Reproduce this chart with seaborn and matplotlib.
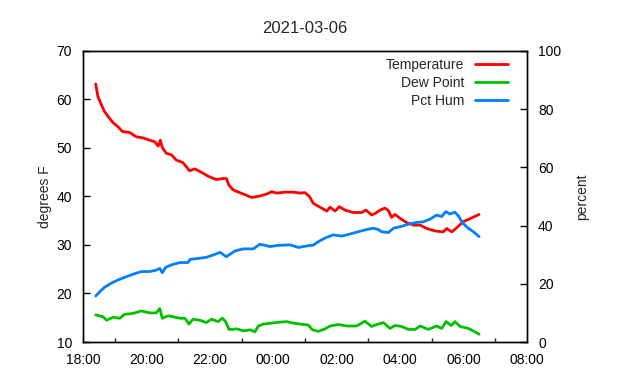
import pandas as pd
import seaborn as sns
import matplotlib
matplotlib.use("Agg")
import matplotlib.pyplot as plt
import matplotlib.dates as mdates

# hours after 18:00 on 2021-03-06
temp_hours = [0.40, 0.47, 0.58, 0.68, 0.79, 0.95, 1.10, 1.24, 1.47, 1.68, 1.89, 2.10, 2.26, 2.37,
              2.44, 2.50, 2.63, 2.79, 2.94, 3.15, 3.26, 3.36, 3.52, 3.73, 3.94, 4.20, 4.41, 4.52,
              4.60, 4.71, 4.79, 5.06, 5.32, 5.58, 5.79, 5.95, 6.11, 6.37, 6.63, 6.84, 7.00, 7.14,
              7.26, 7.47, 7.69, 7.79, 7.95, 8.08, 8.26, 8.52, 8.79, 8.92, 9.10, 9.21, 9.37, 9.52,
              9.63, 9.73, 9.84, 10.00, 10.21, 10.42, 10.63, 10.84, 11.10, 11.36, 11.47, 11.63,
              11.79, 11.99, 12.26, 12.49]
temperature = [63.2, 60.6, 58.9, 57.5, 56.5, 55.2, 54.4, 53.4, 53.2, 52.3, 52.1, 51.6, 51.3, 50.4,
               51.6, 50.1, 48.9, 48.6, 47.5, 47.0, 46.1, 45.3, 45.7, 45.0, 44.2, 43.5, 43.7, 43.7,
               42.4, 41.5, 41.2, 40.5, 39.8, 40.1, 40.5, 41.0, 40.7, 40.9, 40.9, 40.7, 40.8, 40.0,
               38.6, 37.8, 37.0, 37.8, 37.0, 37.9, 37.2, 36.7, 36.7, 37.2, 36.2, 36.5, 37.2, 37.6,
               37.1, 35.7, 36.3, 35.5, 34.6, 34.1, 34.1, 33.4, 32.9, 32.7, 33.4, 32.7,
               33.6, 34.8, 35.6, 36.3]

dew_hours = [0.40, 0.63, 0.74, 0.95, 1.16, 1.31, 1.58, 1.84, 2.10, 2.31, 2.42, 2.50, 2.68, 2.84,
             3.05, 3.21, 3.34, 3.47, 3.68, 3.89, 4.05, 4.26, 4.39, 4.50, 4.60, 4.71, 4.85, 5.06,
             5.27, 5.42, 5.53, 5.69, 5.95, 6.21, 6.42, 6.63, 6.84, 7.10, 7.24, 7.42, 7.63, 7.79,
             8.05, 8.32, 8.63, 8.89, 9.10, 9.21, 9.47, 9.68, 9.84, 10.05, 10.26, 10.47, 10.63,
             10.89, 11.15, 11.31, 11.45, 11.61, 11.73, 11.89, 12.15, 12.36, 12.49]
dew_point = [15.6, 15.2, 14.5, 15.1, 14.9, 15.7, 15.9, 16.4, 16.0, 16.0, 16.9, 14.9, 15.4, 15.2,
             14.9, 14.9, 13.7, 14.7, 14.5, 14.0, 14.7, 14.2, 14.9, 14.2, 12.6, 12.6, 12.7, 12.3,
             12.5, 12.1, 13.3, 13.7, 13.9, 14.1, 14.2, 13.9, 13.7, 13.5, 12.5, 12.2, 12.7, 13.3,
             13.6, 13.3, 13.3, 14.3, 13.2, 13.5, 14.0, 12.8, 13.4, 13.2, 12.6, 12.6, 13.3,
             12.6, 13.3, 12.8, 14.2, 13.4, 14.2, 13.2, 12.8, 12.1, 11.6]

hum_hours = [0.40, 0.53, 0.68, 0.89, 1.10, 1.31, 1.58, 1.84, 2.10, 2.31, 2.42, 2.50, 2.61, 2.79,
             3.05, 3.31, 3.38, 3.63, 3.89, 4.10, 4.33, 4.52, 4.64, 4.79, 5.06, 5.37, 5.58, 5.90,
             6.16, 6.53, 6.79, 7.05, 7.26, 7.47, 7.69, 7.89, 8.16, 8.42, 8.68, 8.89, 9.15, 9.30,
             9.42, 9.63, 9.79, 10.00, 10.26, 10.52, 10.73, 10.94, 11.15, 11.31, 11.44, 11.57,
             11.73, 11.84, 11.96, 12.15, 12.31, 12.49]
pct_hum = [15.8, 17.3, 18.8, 20.2, 21.3, 22.2, 23.3, 24.2, 24.2, 24.7, 25.3, 23.8, 25.7, 26.5,
           27.3, 27.3, 28.4, 28.7, 29.1, 29.9, 30.8, 29.3, 30.2, 31.3, 32.0, 32.0, 33.6, 32.8,
           33.2, 33.4, 32.5, 33.0, 33.3, 34.8, 36.0, 36.8, 36.4, 37.1, 37.9, 38.5, 39.1, 38.7,
           37.9, 37.6, 39.1, 39.6, 40.5, 41.1, 41.3, 42.2, 43.6, 43.1, 44.8, 44.0,
           44.6, 43.3, 41.0, 39.1, 37.9, 36.2]

start = pd.Timestamp("2021-03-06 18:00")


def to_time(hours):
    return start + pd.to_timedelta(hours, unit="h")


df_t = pd.DataFrame({"time": to_time(temp_hours), "value": temperature})
df_d = pd.DataFrame({"time": to_time(dew_hours), "value": dew_point})
df_h = pd.DataFrame({"time": to_time(hum_hours), "value": pct_hum})

sns.set_style("white")
plt.rcParams["font.family"] = ["Liberation Sans", "DejaVu Sans"]
plt.rcParams["font.size"] = 10

fig = plt.figure(figsize=(6.4, 3.8), dpi=100)
ax = fig.add_axes([0.1297, 0.1, 0.6937, 0.7658])
ax2 = ax.twinx()

sns.lineplot(data=df_t, x="time", y="value", ax=ax, color="#ff0000", lw=2, label="Temperature", legend=False)
sns.lineplot(data=df_d, x="time", y="value", ax=ax, color="#00c000", lw=2, label="Dew Point", legend=False)
sns.lineplot(data=df_h, x="time", y="value", ax=ax2, color="#0080ff", lw=2, label="Pct Hum", legend=False)

ax.set_xlim(start, start + pd.Timedelta(hours=14))
ax.set_ylim(10, 70)
ax2.set_ylim(0, 100)
ax.set_yticks(range(10, 71, 10))
ax2.set_yticks(range(0, 101, 20))
ax.xaxis.set_major_locator(mdates.HourLocator(byhour=range(0, 24, 2)))
ax.xaxis.set_minor_locator(mdates.HourLocator())
ax.xaxis.set_major_formatter(mdates.DateFormatter("%H:%M"))

for a in (ax, ax2):
    for s in a.spines.values():
        s.set_color("black")
        s.set_linewidth(1)
ax.tick_params(axis="both", which="major", direction="in", length=5, width=1, colors="black", pad=8)
ax.tick_params(axis="x", which="minor", direction="in", length=3, width=1, bottom=True)
ax2.tick_params(axis="y", direction="in", length=5, width=1, colors="black", pad=8)

ax.set_xlabel("")
ax.set_ylabel("degrees F", labelpad=3)
ax2.set_ylabel("percent", labelpad=10)
ax.set_title("2021-03-06", pad=13)

handles = ax.get_lines()[:2] + ax2.get_lines()[:1]
ax2.legend(handles, ["Temperature", "Dew Point", "Pct Hum"], loc="upper right", frameon=False,
           markerfirst=False, handlelength=2.4, labelspacing=0.3, borderaxespad=0.3,
           bbox_to_anchor=(0.98, 1.01))

fig.savefig("out.png", dpi=100)
